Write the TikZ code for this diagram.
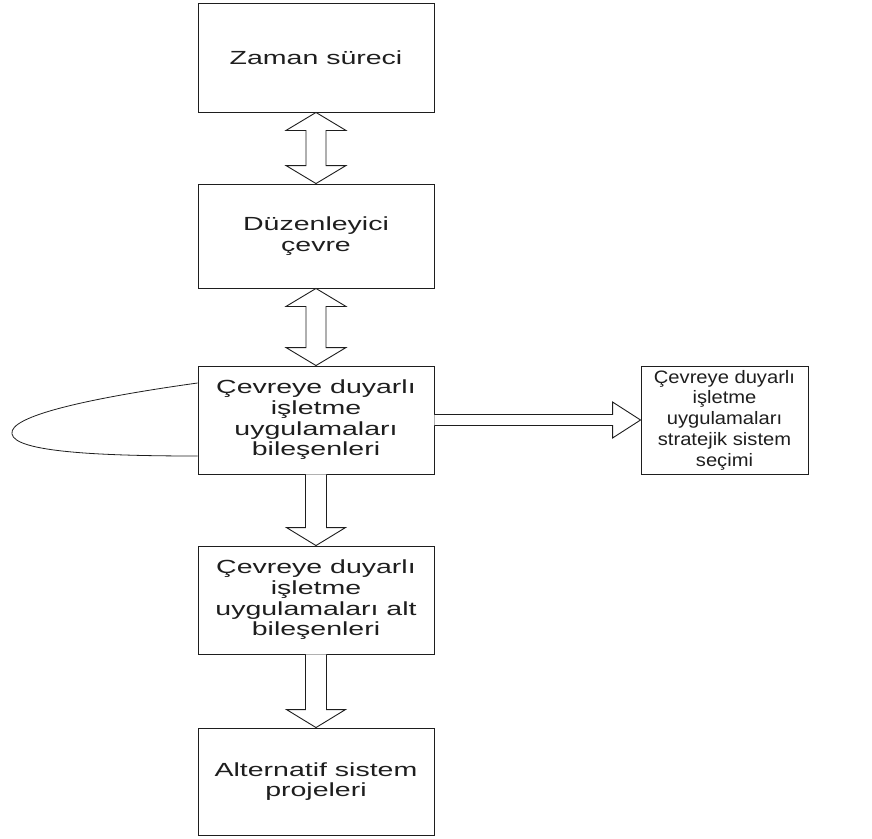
\documentclass[tikz,border=0pt]{standalone}
\usepackage{fontspec}
\usetikzlibrary{calc}
% wide sans faces used in the boxes
\newfontfamily\boxfont[FakeStretch=1.5]{Liberation Sans}
\newfontfamily\sidefont[FakeStretch=1.12]{Liberation Sans}
\definecolor{ink}{HTML}{1E1E1E}
\begin{document}
\begin{tikzpicture}[x=1pt,y=-1pt,
  box/.style={draw=ink, line width=0.9pt, minimum width=236pt, inner sep=0pt,
    align=center, text=ink, font=\boxfont\fontsize{19}{20.6}\selectfont},
  sidebox/.style={box, minimum width=167pt, minimum height=108pt,
    font=\sidefont\fontsize{18}{20.8}\selectfont},
  blk/.style={draw=ink, line width=0.9pt, fill=white, line join=miter},
  loopline/.style={draw=ink, line width=0.8pt}]
\useasboundingbox (0,0) rectangle (872,838);

% main column of boxes
\node[box, minimum height=109pt] (zaman) at (316,57.5) {Zaman süreci};
\node[box, minimum height=104pt] (duz) at (316,236) {Düzenleyici\\çevre};
\node[box, minimum height=108pt] (bil) at (316,420) {Çevreye duyarlı\\işletme\\uygulamaları\\bileşenleri};
\node[box, minimum height=108pt] (alt) at (316,600) {Çevreye duyarlı\\işletme\\uygulamaları alt\\bileşenleri};
\node[box, minimum height=107pt] (proj) at (316,781.5) {Alternatif sistem\\projeleri};
% side box
\node[sidebox] (sec) at (724.5,420) {Çevreye duyarlı\\işletme\\uygulamaları\\stratejik sistem\\seçimi};

% double block arrows between the upper boxes
\foreach \a/\b in {zaman/duz, duz/bil}{
  \draw[blk] (\a.south) -- ($(\a.south)+(30,18)$) -- ($(\a.south)+(10,18)$)
    -- ($(\b.north)+(10,-18)$) -- ($(\b.north)+(30,-18)$) -- (\b.north)
    -- ($(\b.north)+(-30,-18)$) -- ($(\b.north)+(-10,-18)$)
    -- ($(\a.south)+(-10,18)$) -- ($(\a.south)+(-30,18)$) -- cycle;
}

% single downward block arrows
\foreach \a/\b in {bil/alt, alt/proj}{
  \draw[blk] ($(\a.south)+(-10.5,0)$) -- ($(\b.north)+(-10.5,-18)$)
    -- ($(\b.north)+(-29.5,-18)$) -- (\b.north) -- ($(\b.north)+(29.5,-18)$)
    -- ($(\b.north)+(10.5,-18)$) -- ($(\a.south)+(10.5,0)$);
}

% block arrow to the side box
\draw[blk] ($(bil.east)+(0,-5.5)$) -- ($(sec.west)+(-28,-5.5)$)
  -- ($(sec.west)+(-28,-18)$) -- (sec.west) -- ($(sec.west)+(-28,18)$)
  -- ($(sec.west)+(-28,5.5)$) -- ($(bil.east)+(0,5.5)$);

% feedback loop on the left
\coordinate (lp) at (12,434);
\draw[loopline] ($(bil.west)+(0,-37)$) .. controls (90,398) and (8,416) .. (lp)
  .. controls (15,452) and (100,456) .. ($(bil.west)+(0,36)$);
\end{tikzpicture}
\end{document}
